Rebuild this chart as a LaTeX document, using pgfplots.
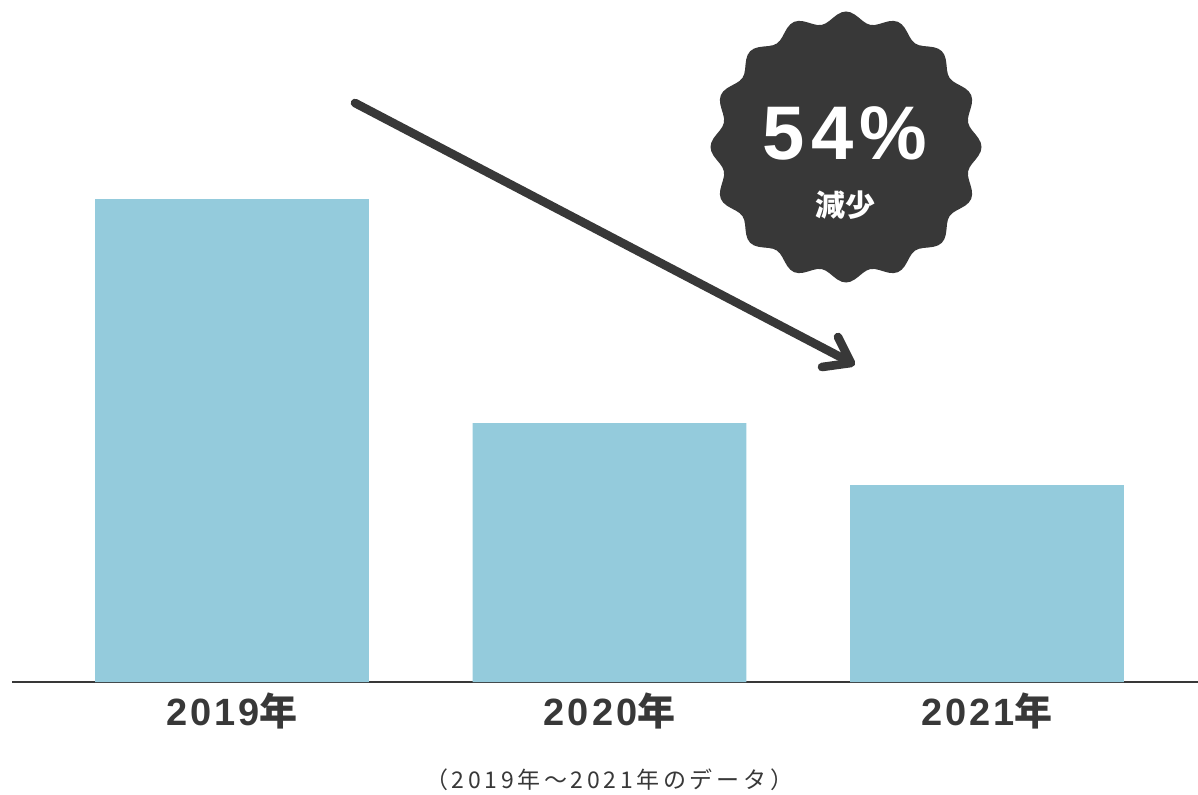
\documentclass[border=0pt]{standalone}
\usepackage{pgfplots}
\pgfplotsset{compat=1.18}
\usepackage{fontspec}
\setmainfont[LetterSpace=8]{Liberation Sans}
\newfontfamily\cjk{Noto Sans CJK JP}
\newfontfamily\cjkw[LetterSpace=16]{Noto Sans CJK JP}
\definecolor{barblue}{HTML}{94CBDC}
\definecolor{dark}{HTML}{383838}
\begin{document}
\begin{tikzpicture}
\path[use as bounding box] (0,0) rectangle (599pt,397pt);
\begin{axis}[
  at={(6pt,56pt)}, anchor=south west,
  scale only axis, width=593pt, height=341pt,
  xmin=-0.5828, xmax=2.559, ymin=0, ymax=682,
  axis x line*=bottom, hide y axis,
  x axis line style={-, line width=1pt, draw=dark},
  xtick={0,1,2},
  xticklabels={2019{\cjk\bfseries 年},2020{\cjk\bfseries 年},2021{\cjk\bfseries 年}},
  xticklabel style={font=\fontsize{19}{22}\selectfont\bfseries, text=dark, yshift=-2pt},
  major tick length=0pt,
  clip=false,
]
\addplot[ybar, bar width=0.7258, bar shift=0pt, draw=none, fill=barblue]
  coordinates {(0,483) (1,259) (2,197)};
\end{axis}
\begin{scope}[x=0.5pt, y=-0.5pt, shift={(0pt,397pt)}]
  % arrow
  \draw[dark, line width=4.3pt, line cap=round] (355,103) -- (848,361);
  \draw[dark, line width=4.3pt, line cap=round, line join=round] (838,337) -- (851,363) -- (822,367);
  % badge
  \fill[dark, shift={(846,147)}] plot[domain=0:360, samples=193] (\x:{130+5.5*cos(16*\x)}) -- cycle;
  \node[white, font=\fontsize{38}{40}\selectfont\bfseries] at (845,133) {54\%};
  \node[white, font=\cjk\bfseries\fontsize{15}{17}\selectfont] at (845,205) {減少};
  % footer
  \node[dark, font=\cjkw\fontsize{11.5}{13}\selectfont] at (609,780) {（2019年～2021年のデータ）};
\end{scope}
\end{tikzpicture}
\end{document}
